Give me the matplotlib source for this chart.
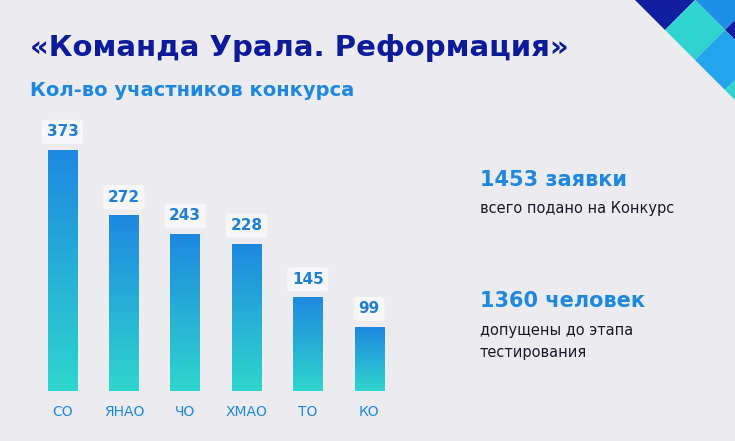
import matplotlib
matplotlib.use("Agg")
import matplotlib.pyplot as plt
import numpy as np
from matplotlib.patches import Polygon
from matplotlib.colors import LinearSegmentedColormap

categories = ["СО", "ЯНАО", "ЧО", "ХМАО", "ТО", "КО"]
values = [373, 272, 243, 228, 145, 99]

W, H = 735, 441
fig = plt.figure(figsize=(7.35, 4.41), dpi=100)
fig.patch.set_facecolor("#ececf0")

# decoration top-right
deco = fig.add_axes([0, 0, 1, 1], zorder=0)
deco.set_xlim(0, W); deco.set_ylim(H, 0); deco.axis("off")
def sq(cx, cy, s, c):
    deco.add_patch(Polygon([(cx, cy - s), (cx + s, cy), (cx, cy + s), (cx - s, cy)], color=c, lw=0))
s = 30
sq(665, 0, s, "#0f1fa0"); sq(725, 0, s, "#1e8fe6"); sq(695, 30, s, "#2fd3cf")
sq(755, 30, s, "#0f1fa0"); sq(725, 60, s, "#22a5ea"); sq(755, 90, s, "#2fd3cf")

fig.text(30, H - 48, "«Команда Урала. Реформация»", transform=None, fontsize=21, fontweight="bold",
         color="#0d1a9a", va="center")
fig.text(30, H - 90, "Кол-во участников конкурса", transform=None, fontsize=14, fontweight="bold",
         color="#1e88e0", va="center")

ax = fig.add_axes([30 / W, (H - 391) / H, 365 / W, 281 / H], zorder=1)
ax.set_facecolor("none")
x = np.arange(len(categories))
ax.set_xlim(-0.53, len(categories) - 0.58)
ax.set_ylim(0, 435)
cmap = LinearSegmentedColormap.from_list("g", ["#2fd6cd", "#1e88e0"])
grad = np.linspace(0, 1, 256).reshape(-1, 1)
bars = ax.bar(x, values, width=0.48, color="none")
for b, v in zip(bars, values):
    im = ax.imshow(grad, cmap=cmap, origin="lower", aspect="auto",
                   extent=[b.get_x(), b.get_x() + b.get_width(), 0, v], zorder=2)
    im.set_clip_path(b)
    ax.text(b.get_x() + b.get_width() / 2, v + 28, str(v), ha="center", va="center",
            fontsize=11, fontweight="bold", color="#1e7fd6", zorder=3,
            bbox=dict(boxstyle="round,pad=0.3,rounding_size=0.2", fc="#f7f7fa", ec="none"))
ax.set_xticks(x)
ax.set_xticklabels(categories, fontsize=10, color="#1e88e0")
ax.tick_params(length=0, pad=10)
ax.set_yticks([])
for sp in ax.spines.values():
    sp.set_visible(False)

fig.text(480, H - 180, "1453 заявки", transform=None, fontsize=15, fontweight="bold", color="#1e88e0", va="center")
fig.text(480, H - 209, "всего подано на Конкурс", transform=None, fontsize=10.5, color="#1a1a2a", va="center")
fig.text(480, H - 301, "1360 человек", transform=None, fontsize=15, fontweight="bold", color="#1e88e0", va="center")
fig.text(480, H - 331, "допущены до этапа", transform=None, fontsize=10.5, color="#1a1a2a", va="center")
fig.text(480, H - 353, "тестирования", transform=None, fontsize=10.5, color="#1a1a2a", va="center")

fig.savefig("out.png", dpi=100, facecolor=fig.get_facecolor())
